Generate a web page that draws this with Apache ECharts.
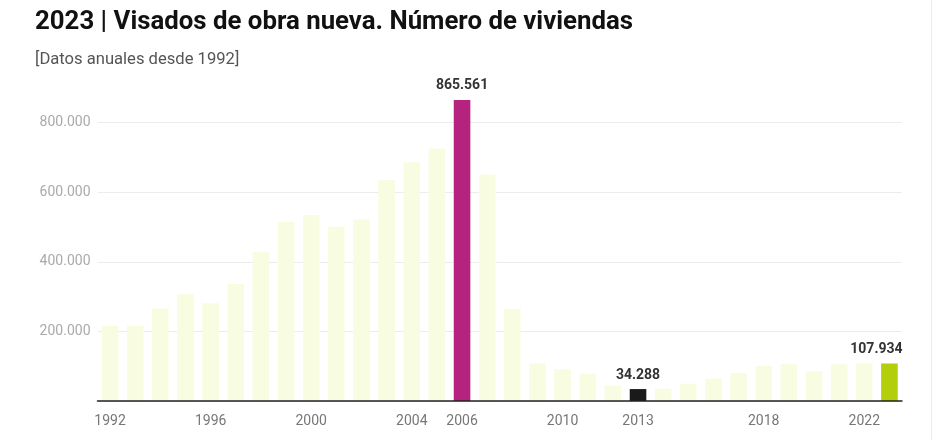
<!DOCTYPE html>
<html>
<head>
<meta charset="utf-8">
<script src="https://cdn.jsdelivr.net/npm/echarts@6/dist/echarts.min.js"></script>
<style>
html,body{margin:0;padding:0;background:#fff;}
#c{width:940px;height:440px;}
</style>
</head>
<body>
<div id="c"></div>
<script>
const years = ['1992','1993','1994','1995','1996','1997','1998','1999','2000','2001','2002','2003','2004','2005','2006','2007','2008','2009','2010','2011','2012','2013','2014','2015','2016','2017','2018','2019','2020','2021','2022','2023'];
const viviendas = [216000,216500,266000,307000,281000,336000,429000,515000,535000,501000,522000,635000,686000,726000,865561,651427,264795,108000,91662,78286,44162,34288,34873,49695,64038,80786,100733,106266,85535,105500,108500,107934];
const shownYears = ['1992','1996','2000','2004','2006','2010','2013','2018','2022'];
const highlight = {'2006':'#b5237f','2013':'#1a1a1a','2023':'#b3cf0b'};
const labelYears = ['2006','2013','2023'];
const yTicks = [200000,400000,600000,800000];

const fmt = v => String(v).replace(/\B(?=(\d{3})+(?!\d))/g,'.');

const chart = echarts.init(document.getElementById('c'));
chart.setOption({
  animation:false,
  title:[
    {text:'2023 | Visados de obra nueva. Número de viviendas', left:30, top:5,
     textStyle:{fontFamily:'Roboto',fontWeight:'bold',fontSize:25.8,color:'#111'}},
    {text:'[Datos anuales desde 1992]', left:30, top:46,
     textStyle:{fontFamily:'Roboto',fontWeight:'normal',fontSize:16.6,color:'#555'}}
  ],
  grid:{left:97.5,right:38,top:122.7,bottom:39,containLabel:false},
  xAxis:{
    type:'category', data:years, z:10,
    axisLine:{lineStyle:{color:'#222',width:1.5}},
    axisTick:{alignWithLabel:true,length:5,lineStyle:{color:'#333'},
      interval:(i,v)=>shownYears.includes(v)},
    axisLabel:{interval:(i,v)=>shownYears.includes(v),
      fontFamily:'Roboto',fontSize:14,color:'#777',margin:13}
  },
  yAxis:{
    type:'value', min:0, max:800000, interval:200000,
    axisLine:{show:false}, axisTick:{show:false},
    splitLine:{lineStyle:{color:'#ececec'}},
    axisLabel:{fontFamily:'Roboto',fontSize:14,color:'#aaa',margin:7,
      formatter:v=>yTicks.includes(v)?fmt(v):''}
  },
  series:[{
    type:'bar', clip:false, barCategoryGap:'34%',
    data:years.map((y,i)=>({
      value:viviendas[i],
      itemStyle:{color:highlight[y]||'#f8fde2'},
      label:{show:labelYears.includes(y),position:'top',distance:7,
        offset:[y==='2023'?-13:0,0],
        formatter:p=>fmt(p.value),
        fontFamily:'Roboto',fontWeight:'bold',fontSize:14,color:'#333'}
    }))
  }],
  graphic:[{type:'line',shape:{x1:931.5,y1:0,x2:931.5,y2:440},style:{stroke:'#ececec',lineWidth:1}}]
});
</script>
</body>
</html>
